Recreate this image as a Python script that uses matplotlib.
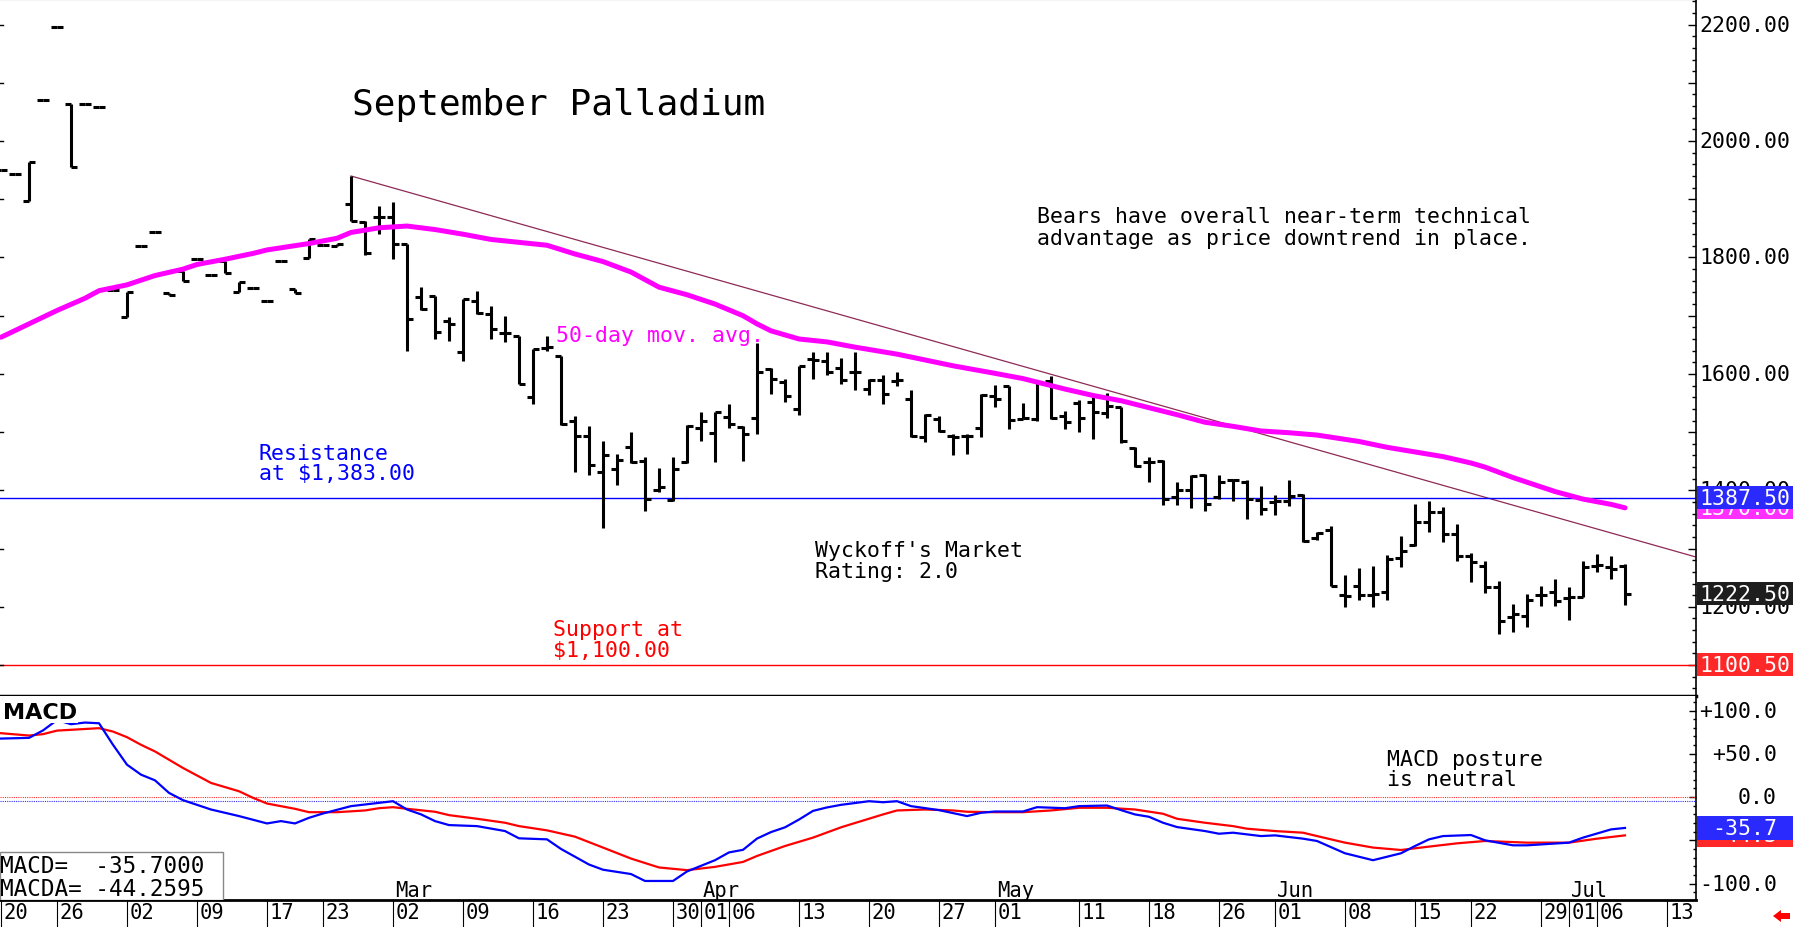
import numpy as np
import pandas as pd
import matplotlib
matplotlib.use("Agg")
import matplotlib.pyplot as plt
from matplotlib.collections import LineCollection
from matplotlib.patches import Rectangle, Polygon
from matplotlib.transforms import blended_transform_factory

# ---------------- data ----------------
holidays = ["2026-01-19", "2026-02-16", "2026-04-03", "2026-05-25", "2026-06-19", "2026-07-03"]
first_day = "2026-01-20"

opens = [1950, 1943, 1897, 2070, 2196, 2064, 2064, 2058, 1744, 1698,
         1820, 1844, 1739, 1777, 1797, 1770, 1794, 1741, 1748, 1725,
         1794, 1746, 1799, 1821, 1819, 1892, 1861, 1869, 1869, 1823,
         1732, 1734, 1691, 1638, 1726, 1703, 1671, 1666, 1560, 1645,
         1631, 1520, 1493, 1431, 1437, 1474, 1450, 1401, 1383, 1448,
         1507, 1499, 1526, 1508, 1524, 1609, 1587, 1540, 1626, 1623,
         1610, 1604, 1574, 1590, 1588, 1557, 1492, 1522, 1494, 1493,
         1507, 1562, 1579, 1523, 1522, 1588, 1527, 1550, 1552, 1533,
         1543, 1472, 1448, 1451, 1388, 1401, 1426, 1388, 1418, 1415,
         1384, 1380, 1382, 1392, 1319, 1332, 1220, 1235, 1221, 1225,
         1283, 1307, 1345, 1362, 1325, 1288, 1270, 1234, 1182, 1184,
         1220, 1225, 1215, 1217, 1270, 1268, 1270]
highs = [1950, 1943, 1964, 2070, 2196, 2064, 2064, 2058, 1744, 1741,
         1820, 1844, 1739, 1777, 1797, 1770, 1794, 1758, 1748, 1725,
         1794, 1746, 1832, 1821, 1823, 1940, 1863, 1889, 1895, 1823,
         1749, 1734, 1698, 1729, 1743, 1717, 1700, 1666, 1643, 1666,
         1631, 1527, 1511, 1484, 1462, 1501, 1458, 1438, 1458, 1512,
         1534, 1535, 1548, 1511, 1653, 1611, 1591, 1614, 1637, 1638,
         1627, 1637, 1591, 1598, 1603, 1573, 1531, 1528, 1497, 1497,
         1566, 1581, 1579, 1550, 1588, 1597, 1537, 1556, 1560, 1568,
         1544, 1474, 1458, 1453, 1414, 1426, 1428, 1426, 1420, 1418,
         1407, 1392, 1417, 1394, 1328, 1338, 1254, 1266, 1270, 1289,
         1322, 1377, 1381, 1371, 1342, 1292, 1279, 1245, 1205, 1222,
         1235, 1247, 1234, 1279, 1291, 1288, 1274]
lows = [1950, 1943, 1897, 2070, 2196, 1955, 2064, 2058, 1744, 1698,
        1820, 1844, 1736, 1760, 1797, 1770, 1773, 1741, 1748, 1725,
        1794, 1739, 1799, 1821, 1819, 1863, 1804, 1840, 1797, 1640,
        1709, 1660, 1657, 1623, 1703, 1660, 1655, 1583, 1548, 1640,
        1512, 1432, 1426, 1335, 1409, 1447, 1365, 1397, 1382, 1447,
        1484, 1449, 1507, 1451, 1497, 1566, 1551, 1529, 1591, 1598,
        1583, 1573, 1564, 1548, 1580, 1491, 1483, 1500, 1460, 1463,
        1491, 1543, 1505, 1522, 1520, 1522, 1505, 1500, 1489, 1525,
        1481, 1440, 1414, 1375, 1375, 1369, 1365, 1385, 1382, 1350,
        1358, 1358, 1374, 1312, 1315, 1235, 1199, 1212, 1199, 1212,
        1268, 1305, 1328, 1311, 1278, 1242, 1224, 1153, 1157, 1165,
        1201, 1202, 1178, 1216, 1259, 1248, 1203]
closes = [1950, 1943, 1964, 2070, 2196, 1955, 2064, 2058, 1744, 1741,
          1820, 1844, 1736, 1760, 1797, 1770, 1773, 1758, 1748, 1725,
          1794, 1739, 1832, 1821, 1823, 1863, 1807, 1869, 1823, 1694,
          1712, 1672, 1686, 1729, 1705, 1677, 1670, 1583, 1643, 1646,
          1514, 1494, 1444, 1460, 1452, 1448, 1386, 1405, 1437, 1510,
          1520, 1534, 1514, 1497, 1604, 1592, 1562, 1613, 1624, 1603,
          1590, 1603, 1590, 1566, 1589, 1493, 1530, 1502, 1491, 1494,
          1563, 1557, 1521, 1525, 1585, 1525, 1517, 1525, 1534, 1545,
          1484, 1442, 1449, 1385, 1400, 1425, 1377, 1414, 1417, 1385,
          1368, 1381, 1391, 1313, 1326, 1236, 1219, 1220, 1222, 1282,
          1296, 1346, 1362, 1325, 1288, 1277, 1234, 1176, 1188, 1212,
          1220, 1210, 1216, 1268, 1271, 1265, 1222.5]

# 50-day moving average, read at these sessions (0 = first_day)
ma_session = [0, 2, 4, 6, 7, 9, 11, 13, 14, 16, 18, 19, 22, 24, 25, 27, 29, 31, 33, 35,
              37, 39, 41, 43, 45, 47, 49, 51, 53, 54, 55, 57, 59, 61, 64, 66, 68, 71, 73, 74,
              76, 78, 80, 82, 84, 86, 88, 90, 92, 94, 97, 99, 101, 103, 105, 106, 108, 109, 110, 111,
              113, 115, 116]
ma_vals = [1663, 1686, 1709, 1730, 1743, 1753, 1769, 1780, 1788, 1797, 1807, 1813, 1824, 1833, 1843, 1851, 1854, 1848, 1840, 1831,
           1826, 1821, 1806, 1793, 1775, 1749, 1736, 1720, 1700, 1686, 1674, 1660, 1655, 1646, 1634, 1624, 1614, 1601, 1592, 1586,
           1574, 1563, 1554, 1542, 1530, 1517, 1510, 1502, 1499, 1495, 1484, 1474, 1466, 1458, 1447, 1440, 1422, 1414, 1406, 1398,
           1385, 1376, 1370]

macd_session = [0, 2, 3, 4, 5, 6, 7, 8, 9, 10, 11, 12, 13, 15, 17, 19, 20, 21, 22, 23,
                25, 26, 28, 29, 30, 31, 32, 34, 36, 37, 39, 40, 42, 43, 45, 46, 48, 49, 51, 52,
                53, 54, 55, 56, 57, 58, 59, 60, 62, 63, 64, 65, 67, 69, 70, 71, 73, 74, 76, 77,
                79, 80, 81, 82, 83, 84, 86, 87, 88, 90, 91, 93, 94, 96, 98, 100, 101, 102, 103, 105,
                106, 108, 109, 112, 113, 115, 116]
macd_vals = [67.6, 68.4, 77, 89, 84.2, 86.1, 85.3, 60.4, 37.4, 25.9, 19.3, 4.8, -3.6, -14.4, -22, -30.5, -27.8, -30.5, -24, -19,
             -10.5, -8.6, -4.8, -14.4, -20, -27.8, -32.4, -33.6, -39.3, -47.7, -48.9, -60, -78, -84, -89, -97, -97, -86, -73, -64,
             -61, -48, -40.5, -35, -26, -16, -12, -9, -4.8, -6, -4.8, -10.5, -15.1, -22, -18.2, -16.7, -16.7, -11.7, -12.9, -10.5,
             -9.8, -15.1, -20.1, -22.8, -29.7, -34.7, -39.3, -42.4, -41.2, -45.1, -44.3, -48.1, -50.8, -65, -73, -65, -56.6, -48.9, -45.1, -43.9,
             -50, -55.8, -55.8, -52.7, -46.9, -37.4, -35.7]

sig_session = [0, 2, 3, 4, 7, 8, 9, 10, 11, 13, 15, 17, 18, 19, 21, 22, 24, 26, 27, 28,
               29, 31, 32, 34, 36, 37, 39, 41, 43, 45, 47, 49, 51, 53, 54, 56, 58, 60, 61, 63,
               64, 66, 68, 69, 71, 73, 75, 77, 79, 81, 83, 84, 86, 88, 89, 91, 93, 94, 96, 98,
               100, 102, 104, 106, 109, 112, 114, 116]
sig_vals = [73.8, 71.1, 72.7, 76.8, 79.6, 75.7, 69.2, 60.4, 52.7, 33.6, 16.3, 6.7, -0.9, -7.5, -13.6, -17.5, -17.5, -15.5, -12.9, -11.7,
            -13.6, -17, -20.9, -25.1, -29.7, -33.6, -38.5, -45.8, -58.4, -71.1, -81.4, -84.5, -80.7, -75, -68.1, -56.6, -46.9, -35, -30, -20.1,
            -15.5, -14.4, -15.5, -17, -17.5, -17.5, -15.5, -12.4, -12.4, -14.4, -19.3, -25.1, -29.7, -33.6, -36.6, -39.3, -41.2, -45.1, -52.7, -58.4,
            -61.2, -57.3, -53.5, -50.8, -52.7, -52.7, -48.1, -44.3]

trend_session = [25, 121]
trend_price = [1940, 1286]

resistance = 1387.5
support = 1100.5
last_close = 1222.5
last_ma = 1370.0
macd_last = -35.7
macda_last = -44.2595

tick_dates = ["2026-01-20", "2026-01-26", "2026-02-02", "2026-02-09", "2026-02-17", "2026-02-23",
              "2026-03-02", "2026-03-09", "2026-03-16", "2026-03-23", "2026-03-30", "2026-04-01",
              "2026-04-06", "2026-04-13", "2026-04-20", "2026-04-27", "2026-05-01", "2026-05-11",
              "2026-05-18", "2026-05-26", "2026-06-01", "2026-06-08", "2026-06-15", "2026-06-22",
              "2026-06-29", "2026-07-01", "2026-07-06", "2026-07-13"]
month_dates = ["2026-03-02", "2026-04-01", "2026-05-01", "2026-06-01", "2026-07-01"]
price_labels = [1200, 1400, 1600, 1800, 2000, 2200]
macd_labels = [-100, -50, 0, 50, 100]

# ---------------- layout ----------------
W, H = 1794, 928
MONO = "DejaVu Sans Mono"
NARROW = ["Liberation Sans Narrow", "DejaVu Sans"]

days = pd.bdate_range(first_day, "2026-07-31", freq="C", holidays=holidays)
tick_pos = days.get_indexer(pd.to_datetime(tick_dates))
month_pos = days.get_indexer(pd.to_datetime(month_dates))

fig = plt.figure(figsize=(W / 100, H / 100), dpi=100)
ax = fig.add_axes([0, 1 - 697 / H, 1696 / W, 697 / H])
mx = fig.add_axes([0, 1 - 901 / H, 1696 / W, 204 / H])

for a in (ax, mx):
    a.set_xlim(-1 / 14, 1695 / 14)
    a.set_xticks([])
    a.spines["left"].set_visible(False)
    a.spines["right"].set_linewidth(1.2)
ax.set_ylim(1046.8, 2244)
mx.set_ylim(-119, 116.8)
ax.spines["top"].set_linewidth(1.5)
ax.spines["bottom"].set_linewidth(2.5)
mx.spines["top"].set_visible(False)
mx.spines["bottom"].set_linewidth(2)


def main_xy(px, py):
    return px / 1696, 1 - py / 697


def macd_xy(px, py):
    return px / 1696, 1 - (py - 697) / 204


# ---------------- price panel ----------------
n = len(opens)
s = np.arange(n)
tw = 0.42
segs = []
for i in range(n):
    segs.append([(s[i], lows[i]), (s[i], highs[i])])
    segs.append([(s[i] - tw, opens[i]), (s[i], opens[i])])
    segs.append([(s[i], closes[i]), (s[i] + tw, closes[i])])
ax.add_collection(LineCollection(segs, colors="black", linewidths=2.2, capstyle="butt", zorder=3))

ax.plot(ma_session, ma_vals, color="#ff00ff", lw=3.6, solid_capstyle="round", zorder=4)
ax.plot(trend_session, trend_price, color="#8e2a55", lw=0.9, zorder=2)
ax.axhline(resistance, color="#0000ff", lw=1.0, zorder=2)
ax.axhline(support, color="#ff0000", lw=1.0, zorder=2)

# right axis ticks
ax.set_yticks(np.arange(1100, 2300, 100))
ax.set_yticks(np.arange(1060, 2244, 20), minor=True)
ax.tick_params(axis="y", which="major", direction="in", length=5.8, width=1,
               left=False, right=True, labelleft=False, labelright=False)
ax.tick_params(axis="y", which="minor", direction="in", length=2.9, width=1,
               left=False, right=True)
yb = blended_transform_factory(ax.transAxes, ax.transData)
for v in np.arange(1100, 2300, 100):
    ax.plot([0, 3 / 1696], [v, v], transform=yb, color="black", lw=1, clip_on=False)
for v in price_labels:
    ax.text(1 + 3 / 1696, v, f"{v:.2f}", transform=yb, ha="left", va="center",
            family=MONO, fontsize=15.5, color="black", zorder=1, clip_on=False)

# value badges on the price axis
bw = 96 / 1696
bh = 23 / 0.5822


def badge(a, trans, value, text, face, h, zo, ha="left", tx=1 + 3 / 1696):
    a.add_patch(Rectangle((1.0005, value - h / 2), bw, h, transform=trans,
                          facecolor=face, edgecolor="none", clip_on=False, zorder=zo))
    a.text(tx, value, text, transform=trans, ha=ha, va="center", family=MONO,
           fontsize=15.5, color="white", zorder=zo + 0.5, clip_on=False)


badge(ax, yb, last_ma, f"{last_ma:.2f}", "#ff30ff", bh, 5)
badge(ax, yb, resistance, f"{resistance:.2f}", "#2a2aff", bh, 7)
badge(ax, yb, last_close, f"{last_close:.2f}", "#1e1e1e", bh, 5)
badge(ax, yb, support, f"{support:.2f}", "#ff2828", bh, 5)

# annotations
ax.text(*main_xy(352, 115.5), "September Palladium", transform=ax.transAxes,
        family=MONO, fontsize=26, va="baseline", ha="left", color="black")
ax.text(*main_xy(1037, 223), "Bears have overall near-term technical", transform=ax.transAxes,
        family=MONO, fontsize=15.5, va="baseline", color="black")
ax.text(*main_xy(1037, 245), "advantage as price downtrend in place.", transform=ax.transAxes,
        family=MONO, fontsize=15.5, va="baseline", color="black")
ax.text(*main_xy(556, 342), "50-day mov. avg.", transform=ax.transAxes,
        family=MONO, fontsize=15.5, va="baseline", color="#ff00ff")
ax.text(*main_xy(259, 460), "Resistance", transform=ax.transAxes,
        family=MONO, fontsize=15.5, va="baseline", color="#0000ff")
ax.text(*main_xy(259, 480.5), "at $1,383.00", transform=ax.transAxes,
        family=MONO, fontsize=15.5, va="baseline", color="#0000ff")
ax.text(*main_xy(815, 557), "Wyckoff's Market", transform=ax.transAxes,
        family=MONO, fontsize=15.5, va="baseline", color="black")
ax.text(*main_xy(815, 578), "Rating: 2.0", transform=ax.transAxes,
        family=MONO, fontsize=15.5, va="baseline", color="black")
ax.text(*main_xy(553, 636), "Support at", transform=ax.transAxes,
        family=MONO, fontsize=15.5, va="baseline", color="#ff0000")
ax.text(*main_xy(553, 657), "$1,100.00", transform=ax.transAxes,
        family=MONO, fontsize=15.5, va="baseline", color="#ff0000")

# ---------------- MACD panel ----------------
mx.axhline(0, color="#ff3030", lw=0.8, ls=(0, (1, 1)))
mx.axhline(-4.5, color="#3030ff", lw=0.8, ls=(0, (1, 1)))
mx.plot(sig_session, sig_vals, color="#ff0000", lw=1.6, zorder=3)
mx.plot(macd_session, macd_vals, color="#0000ff", lw=1.6, zorder=4)

mx.set_yticks(macd_labels)
mx.set_yticks(np.arange(-110, 116, 10), minor=True)
mx.tick_params(axis="y", which="major", direction="in", length=5, width=1,
               left=False, right=True, labelleft=False, labelright=False)
mx.tick_params(axis="y", which="minor", direction="in", length=2.5, width=1,
               left=False, right=True)
mb = blended_transform_factory(mx.transAxes, mx.transData)
for v in macd_labels:
    lab = f"{v:+.1f}" if v > 0 else f"{v:.1f}"
    mx.text(1777 / 1696, v, lab, transform=mb, ha="right", va="center",
            family=MONO, fontsize=15.5, color="black", zorder=1, clip_on=False)
mh = 24 / 0.865
badge(mx, mb, macda_last, f"{macda_last:.1f}", "#ff2828", mh, 5, ha="right", tx=1777 / 1696)
badge(mx, mb, macd_last, f"{macd_last:.1f}", "#2a2aff", mh, 7, ha="right", tx=1777 / 1696)

mx.text(*macd_xy(3, 719), "MACD", transform=mx.transAxes, family=NARROW, weight="bold",
        fontsize=16, va="baseline", ha="left", color="black", zorder=6,
        bbox=dict(facecolor="white", edgecolor="none", pad=1))

mx.add_patch(Rectangle(macd_xy(0, 901), 223 / 1696, 48 / 204, transform=mx.transAxes,
                       facecolor="white", edgecolor="#888888", lw=1, zorder=6))
mx.text(*macd_xy(0, 873), f"MACD=  {macd_last:.4f}", transform=mx.transAxes,
        family=MONO, fontsize=16.3, va="baseline", color="black", zorder=7)
mx.text(*macd_xy(0, 896), f"MACDA= {macda_last:.4f}", transform=mx.transAxes,
        family=MONO, fontsize=16.3, va="baseline", color="black", zorder=7)

mx.text(*macd_xy(1387, 766), "MACD posture", transform=mx.transAxes,
        family=MONO, fontsize=15.5, va="baseline", color="black")
mx.text(*macd_xy(1387, 786), "is neutral", transform=mx.transAxes,
        family=MONO, fontsize=15.5, va="baseline", color="black")

# date strip below the MACD panel
xb = blended_transform_factory(mx.transData, mx.transAxes)
for p, d in zip(tick_pos, tick_dates):
    mx.plot([p, p], [0, -27 / 204], transform=xb, color="black", lw=0.8, clip_on=False)
    mx.text(p + 2.5 / 14, -12.5 / 204, pd.Timestamp(d).strftime("%d"), transform=xb,
            ha="left", va="center", family=MONO, fontsize=14.8, color="black", clip_on=False)
for p, d in zip(month_pos, month_dates):
    mx.text(p + 2 / 14, 4 / 204, pd.Timestamp(d).strftime("%b"), transform=xb,
            ha="left", va="baseline", family=MONO, fontsize=14.8, color="black", clip_on=False)

# small red arrow in the corner
fig.patches.append(Polygon([(1773 / W, 1 - 917 / H), (1781 / W, 1 - 911 / H), (1781 / W, 1 - 914 / H),
                            (1790 / W, 1 - 914 / H), (1790 / W, 1 - 920 / H), (1781 / W, 1 - 920 / H),
                            (1781 / W, 1 - 923 / H)], closed=True, transform=fig.transFigure,
                           facecolor="#ff0000", edgecolor="none"))

fig.savefig("out.png", dpi=100, facecolor="white")
